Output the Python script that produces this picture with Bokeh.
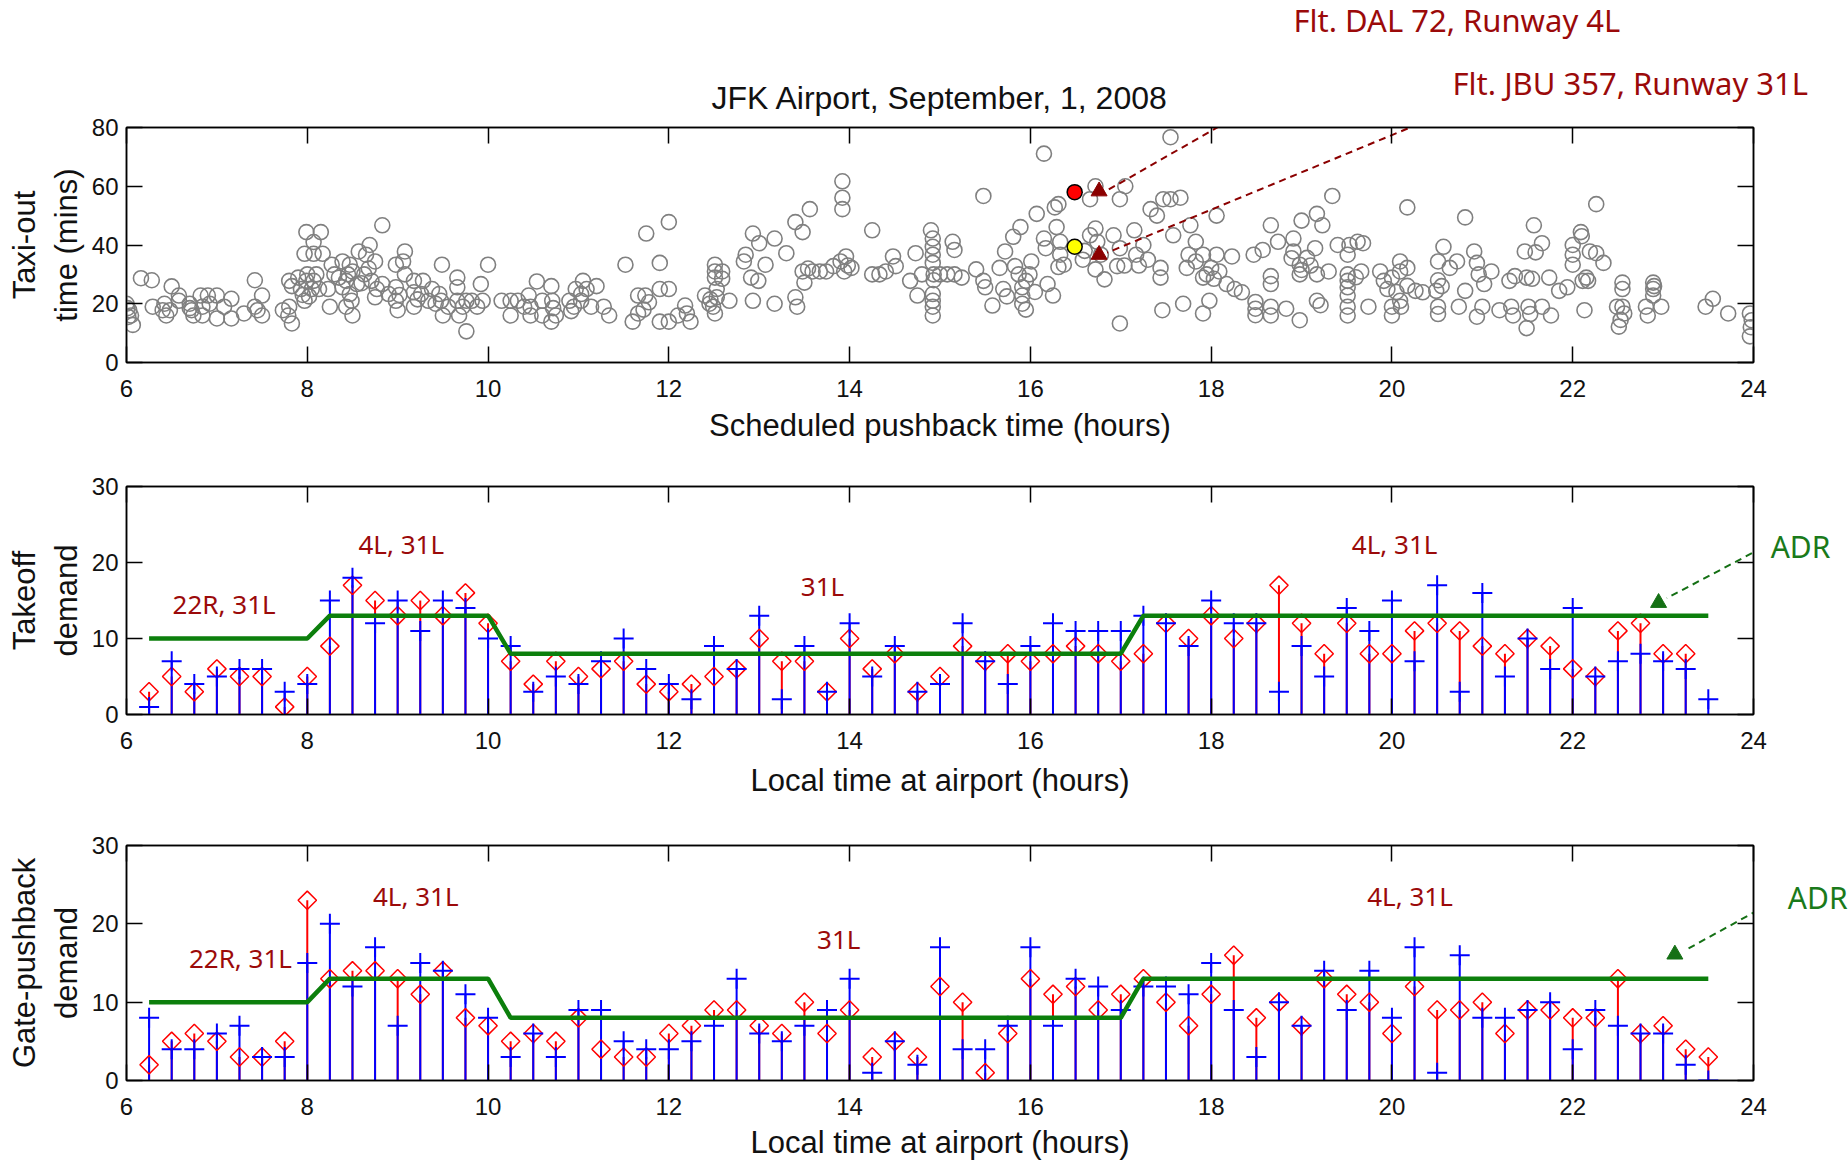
import math
from bokeh.plotting import figure
from bokeh.layouts import column
from bokeh.models import Range1d, LinearAxis, FixedTicker, Label
from bokeh.embed import file_html
from bokeh.resources import INLINE

# ---------------- data ----------------
taxi_pts = [
 (6.0,20),(6.03,17.8),(6.05,16),(6.07,12.8),(6.01,18.5),(6.02,15.5),
 (6.16,28.7),(6.28,28),(6.29,19),(6.4,17.8),(6.42,20),(6.48,17.8),(6.44,16),
 (6.5,25.9),(6.58,22.8),(6.58,21),(6.7,20),(6.72,17.8),(6.74,16),(6.7,18.5),
 (6.82,22.8),(6.84,19),(6.84,16),(6.9,22.8),(6.92,20),(7.0,22.8),(7.0,15),(7.08,19),(7.16,21.7),(7.16,15),
 (7.3,16.7),(7.42,28),(7.42,19),(7.5,22.8),(7.5,16),(7.45,17.8),
 (7.73,17.8),(7.79,16),(7.83,13.3),(7.8,27.8),(7.83,26),(7.8,19),
 (7.99,44.4),(8.15,44.4),(8.07,41),(7.97,37),(8.07,37),(8.17,37),(7.9,28.9),(7.99,27.8),(8.07,27.8),
 (7.93,25),(8.05,25),(8.13,25),(7.97,21),(8.23,25),(8.25,19),(8.0,30),(8.1,30),(7.95,23),(8.02,22.5),
 (8.27,33.3),(8.39,34.4),(8.47,33.3),(8.35,28.9),(8.43,27.8),(8.5,31),(8.55,26.7),(8.39,25.6),(8.47,23.3),
 (8.49,21),(8.5,16),(8.43,19),(8.3,30),(8.45,30),
 (8.57,37.8),(8.69,40),(8.65,36.7),(8.75,34.4),(8.63,30),(8.71,27.8),(8.77,25),(8.75,22.2),(8.83,46.7),(8.6,27),(8.68,32),
 (8.83,26.7),(8.9,23.3),(8.98,21),(9.0,17.8),(8.98,25.6),(8.98,33.3),(9.08,37.8),(9.06,34.4),(9.08,30),(9.02,23),
 (9.18,27.8),(9.18,23.9),(9.18,19),(9.26,23.3),(9.28,27.8),(9.34,21),(9.38,25),(9.22,21.5),
 (9.49,33.3),(9.46,23.3),(9.48,21),(9.5,16),(9.56,19),(9.42,20),
 (9.66,28.9),(9.66,25.6),(9.66,21),(9.68,16),(9.76,10.6),(9.76,21),(9.82,21),(9.72,19),
 (9.92,26.7),(9.94,21),(10.0,33.3),(9.88,19),
 (10.15,21),(10.25,21),(10.25,16),(10.33,21),(10.4,19),
 (10.45,22.8),(10.47,19),(10.47,16),(10.54,27.6),(10.6,21),(10.6,16),
 (10.7,26),(10.71,21),(10.7,13.9),(10.75,16),(10.72,18.5),
 (10.9,21),(10.95,19),(10.97,25),(11.03,21),(11.05,27.8),(11.03,23.3),(11.09,25),(11.14,19),(11.2,26),(11.28,19),(11.34,16),(10.92,17.5),
 (11.52,33.3),(11.6,13.9),(11.66,22.8),(11.66,16.7),(11.74,22.8),(11.75,43.9),(11.9,33.9),(11.9,25),(11.9,13.9),(11.72,18),(11.78,20.5),
 (12.0,47.8),(12.0,25),(12.0,13.9),(12.18,19.4),(12.2,16.7),(12.24,13.9),(12.1,16),
 (12.4,22.8),(12.46,21.5),(12.51,33.3),(12.51,31),(12.51,28.9),(12.53,25),(12.53,22.2),(12.49,19),(12.59,31),(12.59,28.5),(12.67,21),(12.51,16.7),(12.45,20),
 (12.85,36.7),(12.83,34.4),(12.91,28.9),(12.93,43.9),(13.0,40.6),(12.99,27.8),(13.07,33.3),(12.93,21),(13.17,42.2),(13.17,20),
 (13.3,37.2),(13.4,47.8),(13.48,44.4),(13.56,52.2),(13.4,22.2),(13.42,19),
 (13.48,31),(13.54,32),(13.5,27.2),(13.59,31),(13.67,31),(13.74,31),(13.82,32.8),(13.9,34.4),(13.96,36.1),(13.94,31),(14.02,32.2),(13.98,33),
 (13.92,61.7),(13.92,56.1),(13.92,52.2),
 (14.25,45),(14.25,30),(14.33,30),(14.4,31),(14.48,36.1),(14.51,32.8),
 (14.67,27.8),(14.73,37.2),(14.75,22.8),
 (14.9,45),(14.92,42.2),(14.92,39.4),(14.92,36.7),(14.92,33.9),(14.93,30),(14.93,28),(14.92,23.3),(14.92,21),(14.92,19),(14.92,16),
 (14.8,30),(15.0,30),(15.08,30),(15.14,41.1),(15.16,38.3),(15.16,30),(15.24,28.9),
 (15.4,31.7),(15.48,56.7),(15.48,27.8),(15.5,25.6),(15.58,19.4),
 (15.66,32.2),(15.72,37.8),(15.7,25),(15.74,22.5),(15.81,42.8),(15.89,46.1),(15.83,32.8),(15.87,30),(15.91,25.6),(15.91,22.8),
 (15.91,20),(15.95,27.8),(15.99,30),(16.01,34.4),(16.07,50.6),(16.15,71.1),(16.15,42.2),(16.17,38.9),(16.19,26.7),(16.25,22.8),(15.95,18),(16.05,24),
 (16.27,52.8),(16.31,53.9),(16.29,46.1),(16.33,41.1),(16.33,36.7),(16.37,33.3),(16.31,32.5),
 (16.72,60),(16.66,55.6),(16.72,45.6),(16.66,43.3),(16.74,41.1),(16.72,31.7),(16.82,28.3),(16.78,36.7),(16.6,38),(16.58,35),
 (16.99,13.3),(16.99,55.6),(17.05,60),(16.92,43.3),(16.99,38.9),(16.96,32.8),(17.04,33),(17.15,45),(17.17,36.7),(17.25,40),
 (17.33,52.2),(17.4,50),(17.47,55.6),(17.55,55.6),(17.55,76.7),(17.44,32.2),(17.44,28.9),(17.46,17.8),(17.58,43.3),(17.69,20),
 (17.73,32.2),(17.75,36.7),(17.3,35),(17.2,33),
 (17.66,56.1),(17.77,46.7),(17.83,41.1),(18.06,50),(17.91,16.7),(17.98,21),
 (17.83,34.4),(17.91,36.7),(18.0,32.2),(18.06,36.7),(17.91,28.9),(18.09,31),(18.17,26.7),(18.23,36.1),(18.26,25),(18.34,23.9),(17.95,30),(18.03,28.5),
 (18.47,36.7),(18.49,20.6),(18.49,18.3),(18.49,16.1),(18.57,38.3),(18.66,46.7),(18.66,29.4),(18.66,26.7),(18.66,19),(18.66,16),
 (18.74,41.1),(18.83,18.3),(18.91,42.2),(18.91,37.8),(18.89,35.5),(18.98,14.4),
 (19.0,48.3),(18.98,33.3),(18.98,30),(19.06,35.6),(19.15,38.9),(19.17,50.6),(19.23,46.7),(19.17,21),(19.21,19.5),(19.17,30),(19.3,31),(19.34,56.7),(19.0,31.5),(19.1,33),
 (19.4,40),(19.53,40),(19.51,36.7),(19.51,30),(19.51,27.8),(19.51,25.6),(19.51,22.8),(19.51,19),(19.51,16),(19.62,41.1),(19.68,40.6),(19.66,31),(19.74,19),(19.6,29),
 (19.87,31),(19.91,27.8),(20.0,28.9),(20.09,34.4),(20.09,31),(20.17,32.2),(20.0,19),(20.0,16),(20.09,21),(20.17,52.8),(20.17,26.1),(20.26,24.4),(20.34,23.9),(19.95,25),(20.05,24),(20.1,19),
 (20.49,24.4),(20.51,34.4),(20.51,28),(20.51,19),(20.51,16.5),(20.57,39.4),(20.64,32.2),(20.72,34.4),(20.74,19),(20.81,49.4),(20.81,24.4),
 (20.91,37.8),(20.94,33.9),(20.96,30),(21.02,26.7),(21.0,19),(20.94,15.6),(20.55,26),
 (21.1,31),(21.19,17.8),(21.3,27.8),(21.36,29.4),(21.32,19),(21.34,16),(21.47,37.8),(21.49,28.9),(21.51,19),(21.53,16.5),(21.49,11.7),(21.55,28.5),
 (21.57,46.7),(21.66,40.6),(21.59,37.5),(21.66,19),(21.76,16),(21.74,28.9),
 (21.85,24.4),(21.94,25.6),(22.0,40),(22.0,36.7),(22.0,33.3),(22.09,44.4),(22.11,27.8),(22.15,28.9),(22.13,17.8),(22.17,27.8),(22.19,37.8),(22.26,53.9),(22.26,37.2),(22.34,33.9),(22.1,43),
 (22.51,12.2),(22.53,14.5),(22.55,27.2),(22.55,25),(22.55,19),(22.49,19),(22.57,16.7),
 (22.81,19),(22.83,16),(22.89,27.2),(22.89,25),(22.89,22.8),(22.98,19),(22.9,26),
 (23.47,19),(23.55,21.7),(23.72,16.7),(23.96,16.7),(23.98,14.4),(23.96,8.9),(23.97,12),
]
taxi_hour = [p[0] for p in taxi_pts]
taxi_min = [p[1] for p in taxi_pts]
flight_dal = (16.49, 58.0)
flight_jbu = (16.49, 39.4)

bins = [6.25 + 0.25 * i for i in range(70)]
takeoff_actual = [3,5,3,6,5,5,1,5, 9,17,15,13,15,13,16,12, 7,4,7,5,6,7,4,3,
                  4,5,6,10,7,7,3,10, 6,8,3,5,9,7,8,7, 8,9,8,7,8,12,10,13,
                  10,12,17,12,8,12,8,8, 11,12,11,9,8,10,9,6, 5,11,12,8,8]
takeoff_demand = [1,7,4,5,6,6,3,4, 15,18,12,15,11,15,14,10, 9,3,5,4,7,10,6,4,
                  2,9,6,13,2,9,3,12, 5,9,3,4,12,7,4,9, 12,11,11,11,13,12,9,15,
                  12,12,3,9,5,14,11,15, 7,17,3,16,5,10,6,14, 5,7,8,7,6,2]
gate_actual = [2,5,6,5,3,3,5,23, 13,14,14,13,11,14,8,7, 5,6,5,8,4,3,3,6,
               7,9,9,7,6,10,6,9, 3,5,3,12,10,1,6,13, 11,12,9,11,13,10,7,11,
               16,8,10,7,13,11,10,6, 12,9,9,10,6,9,9,8, 8,13,6,7,4,3]
gate_demand = [8,4,4,6,7,3,3,15, 20,12,17,7,15,14,11,8, 3,6,3,9,9,5,4,4,
               5,7,13,6,5,7,9,13, 1,5,2,17,4,4,7,17, 7,13,12,9,12,12,11,15,
               9,3,10,7,14,9,14,8, 17,1,16,8,8,9,10,4, 9,7,6,6,2,0]
adr_x = [6.25, 8.0, 8.25, 10.0, 10.25, 17.0, 17.25, 23.5]
adr_y = [10, 10, 13, 13, 8, 8, 13, 13]

# callout leaders (start -> end near the arrow head) and heads
dal_leader = ([19.47, 16.85], [104.7, 58.6])
jbu_leader = ([20.91, 16.85], [89.0, 37.4])
dal_head = (16.76, 58.3)
jbu_head = (16.76, 36.7)

# ---------------- styling helpers ----------------
TICK_FONT = "Liberation Sans"
LAB_FONT = "Liberation Sans"
ANN_FONT = "Noto Sans"
DARKRED = "#9b0a0a"
ARROWRED = "#8b0000"
GREEN = "#0c7f0c"
ADRGREEN = "#157015"

FIG_W = 1848
BORDER_L, BORDER_R = 126, 95
FRAME_H = 239
PX_PER_HOUR = (FIG_W - BORDER_L - BORDER_R) / 18.0
DASH = (7, 5)


def make_fig(h, top, bottom, ymax, yticks, xlabel, ylabel, xlab_standoff):
    p = figure(width=FIG_W, height=h, x_range=Range1d(6, 24), y_range=Range1d(0, ymax),
               output_backend="svg", toolbar_location=None,
               min_border_left=BORDER_L, min_border_right=BORDER_R,
               min_border_top=top, min_border_bottom=bottom)
    p.xgrid.visible = False
    p.ygrid.visible = False
    p.outline_line_color = "black"
    p.outline_line_width = 1.5
    p.background_fill_color = "white"
    p.border_fill_color = "white"
    xt = FixedTicker(ticks=list(range(6, 25, 2)))
    yt = FixedTicker(ticks=yticks)
    for ax, tk in ((p.xaxis[0], xt), (p.yaxis[0], yt)):
        ax.ticker = tk
        ax.major_tick_in = 16
        ax.major_tick_out = 0
        ax.minor_tick_line_color = None
        ax.axis_line_color = "black"
        ax.axis_line_width = 1.5
        ax.major_tick_line_width = 1.5
        ax.major_label_text_font = TICK_FONT
        ax.major_label_text_font_size = "24px"
        ax.major_label_text_color = "#111111"
        ax.axis_label_text_font = LAB_FONT
        ax.axis_label_text_font_size = "31px"
        ax.axis_label_text_font_style = "normal"
        ax.axis_label_text_color = "#111111"
    p.xaxis[0].axis_label = xlabel
    p.xaxis[0].major_label_standoff = 17
    p.xaxis[0].axis_label_standoff = xlab_standoff
    p.yaxis[0].axis_label = ylabel
    p.yaxis[0].major_label_standoff = 8
    p.yaxis[0].axis_label_standoff = 5
    for loc, tk in (("above", xt), ("right", yt)):
        ax = LinearAxis(ticker=tk, major_tick_in=16, major_tick_out=0,
                        minor_tick_line_color=None, axis_line_color="black",
                        axis_line_width=1.5, major_tick_line_width=1.5,
                        major_label_text_color=None, major_label_text_font_size="1px",
                        major_label_standoff=0)
        p.add_layout(ax, loc)
    return p


def leader(p, xs, ys, color, side, ymax, edge):
    """Dashed leader from (xs[0], ys[0]) (outside the frame) to (xs[1], ys[1]) (inside)."""
    # part inside the frame: an ordinary dashed segment glyph (clipped to the frame)
    p.segment(x0=[xs[0]], y0=[ys[0]], x1=[xs[1]], y1=[ys[1]], line_color=color,
              line_width=2, line_dash=f"{DASH[0]} {DASH[1]}")
    # part outside the frame: the rotated border box of a blank label (not clipped)
    kind, val = edge
    if kind == "y":
        t = (val - ys[0]) / (ys[1] - ys[0])
    else:
        t = (val - xs[0]) / (xs[1] - xs[0])
    bx, by = xs[0] + t * (xs[1] - xs[0]), ys[0] + t * (ys[1] - ys[0])
    dxp = (bx - xs[0]) * PX_PER_HOUR
    dyp = (by - ys[0]) * FRAME_H / ymax
    L = math.hypot(dxp, dyp)
    ang = math.atan2(dyp, dxp)
    if ang > math.pi / 2 or ang < -math.pi / 2:
        ang += math.pi
    d, g = DASH
    per = d + g
    off = int(round((d / 2.0 - L - 0.5) % per))
    p.add_layout(Label(x=(xs[0] + bx) / 2.0, y=(ys[0] + by) / 2.0, text=" ",
                       text_font_size="1px", text_align="center", text_baseline="middle",
                       text_color=None, angle=ang, padding=(int(round(L / 2.0)), 0),
                       border_line_color=color, border_line_width=1.6,
                       border_line_dash=f"{d} {g}", border_line_dash_offset=off,
                       background_fill_color=None), side)


# ---------------- top: taxi-out scatter ----------------
p1 = make_fig(445, 127, 79, 80, [0, 20, 40, 60, 80],
              "Scheduled pushback time (hours)", "Taxi-out\ntime (mins)", 8)
p1.scatter(taxi_hour, taxi_min, marker="circle", size=15, fill_color=None,
           line_color="#808080", line_width=1.6)
p1.scatter([flight_dal[0]], [flight_dal[1]], marker="circle", size=15,
           fill_color="#ff0000", line_color="black", line_width=1.5)
p1.scatter([flight_jbu[0]], [flight_jbu[1]], marker="circle", size=15,
           fill_color="#ffff00", line_color="black", line_width=1.5)
p1.add_layout(Label(x=15.0, y=90, text="JFK Airport, September, 1, 2008",
                    text_font=LAB_FONT, text_font_size="32px", text_color="#111111",
                    text_align="center", text_baseline="middle"), "above")
p1.add_layout(Label(x=18.91, y=116.5, text="Flt. DAL 72, Runway 4L", text_font=ANN_FONT,
                    text_font_size="31px", text_color=DARKRED, text_align="left",
                    text_baseline="middle"), "above")
p1.add_layout(Label(x=20.67, y=95, text="Flt. JBU 357, Runway 31L", text_font=ANN_FONT,
                    text_font_size="31px", text_color=DARKRED, text_align="left",
                    text_baseline="middle"), "above")
leader(p1, *dal_leader, ARROWRED, "above", 80, ("y", 80))
leader(p1, *jbu_leader, ARROWRED, "above", 80, ("y", 80))
p1.scatter([dal_head[0], jbu_head[0]], [dal_head[1], jbu_head[1]], marker="triangle",
           size=16, fill_color=ARROWRED, line_color=ARROWRED)


# ---------------- demand panels ----------------
def demand_panel(h, top, bottom, ylabel, xstand, actual, demand, labels, adr_lab, adr_leader, adr_head):
    p = make_fig(h, top, bottom, 30, [0, 10, 20, 30], "Local time at airport (hours)", ylabel, xstand)
    p.segment(x0=bins, y0=[0] * len(bins), x1=bins, y1=actual, line_color="#ff0000", line_width=2)
    p.segment(x0=bins, y0=[0] * len(bins), x1=bins, y1=demand, line_color="#0000ff", line_width=2)
    p.scatter(bins, actual, marker="square", angle=math.pi / 4, size=13, fill_color=None,
              line_color="#ff0000", line_width=1.5)
    p.scatter(bins, demand, marker="cross", size=20, line_color="#0000ff", line_width=2)
    p.line(adr_x, adr_y, line_color=GREEN, line_width=4.5)
    for (x, y, t) in labels:
        p.add_layout(Label(x=x, y=y, text=t, text_font=ANN_FONT, text_font_size="26px",
                           text_color=DARKRED, text_align="center", text_baseline="middle"))
    p.add_layout(Label(x=adr_lab[0], y=adr_lab[1], text="ADR", text_font=ANN_FONT,
                       text_font_size="30px", text_color="#1a7a1a", text_align="left",
                       text_baseline="middle"), "right")
    leader(p, adr_leader[0], adr_leader[1], ADRGREEN, "right", 30, ("x", 24))
    p.scatter([adr_head[0]], [adr_head[1]], marker="triangle", size=16,
              fill_color=ADRGREEN, line_color=ADRGREEN)
    return p


p2 = demand_panel(355, 41, 75, "Takeoff\ndemand", 11, takeoff_actual, takeoff_demand,
                  [(7.08, 14.5, "22R, 31L"), (9.04, 22.5, "4L, 31L"), (13.7, 16.9, "31L"),
                   (20.03, 22.5, "4L, 31L")],
                  (24.19, 22.1), ([24.10, 23.04], [21.96, 15.3]), (22.95, 14.7))
p3 = demand_panel(362, 45, 78, "Gate-pushback\ndemand", 7, gate_actual, gate_demand,
                  [(7.26, 15.7, "22R, 31L"), (9.2, 23.5, "4L, 31L"), (13.88, 18.1, "31L"),
                   (20.2, 23.6, "4L, 31L")],
                  (24.38, 23.4), ([24.28, 23.24], [23.2, 16.6]), (23.13, 16.1))

layout = column(p1, p2, p3, spacing=0)
open("out.html", "w").write(file_html(layout, INLINE))
